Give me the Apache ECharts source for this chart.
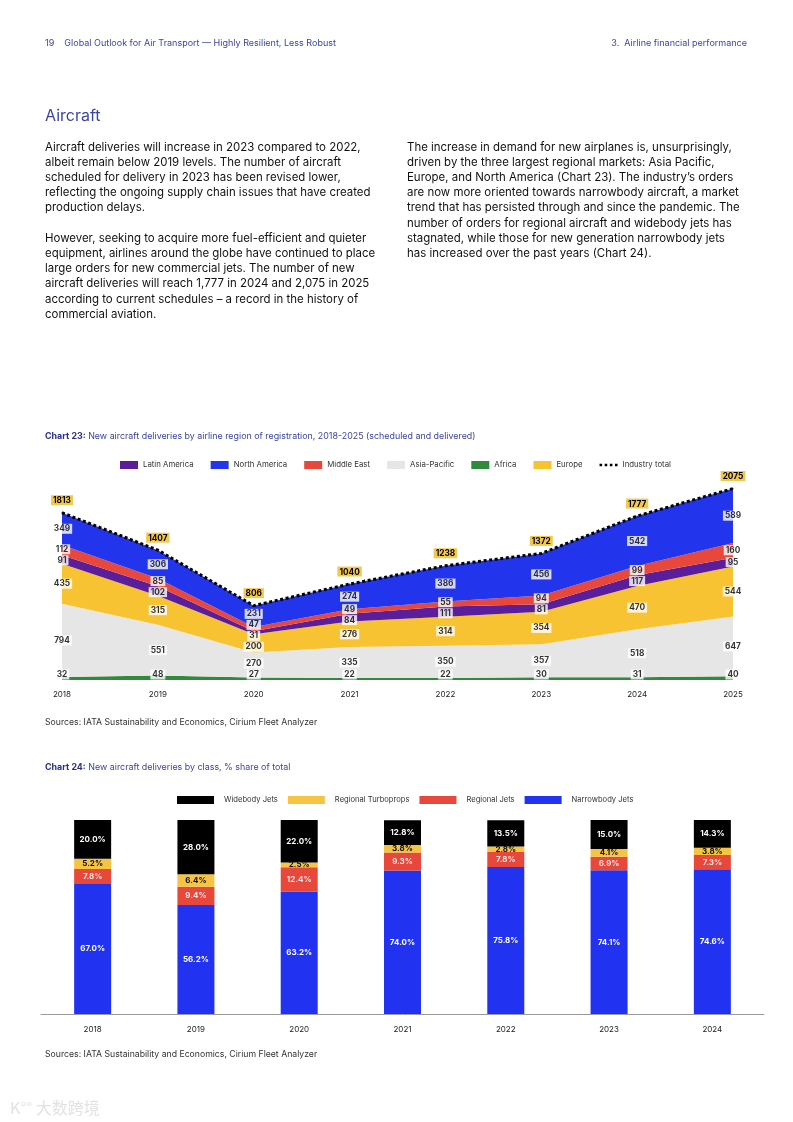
<!DOCTYPE html>
<html><head><meta charset="utf-8">
<script src="https://cdn.jsdelivr.net/npm/echarts@6/dist/echarts.min.js"></script>
<style>
body{margin:0;background:#fff;}
#page{position:relative;width:793px;height:1122px;overflow:hidden;font-family:Inter,'Noto Sans',sans-serif;background:#fff;}
#chart{position:absolute;left:0;top:0;width:793px;height:1122px;}
.t{position:absolute;white-space:nowrap;}
.hdr{top:37px;font-size:9px;color:#3b44a6;line-height:12px;}
.h2{left:45px;top:105px;font-size:16px;color:#3b44a6;line-height:20px;}
.p{font-size:11.45px;line-height:15.2px;color:#111;}
.ct{left:45px;font-size:8.9px;color:#3b44a6;line-height:12px;}
.ct b{color:#2a308f;}
.src{left:45px;font-size:8.7px;color:#333;line-height:12px;}
.wm{left:10px;top:1095px;font-size:16px;color:#e2e2e2;font-family:'Noto Sans CJK SC',sans-serif;}
</style></head>
<body>
<div id="page">
<div id="chart"></div>
<div class="t hdr" style="left:45px;">19&nbsp;&nbsp;&nbsp; Global Outlook for Air Transport — Highly Resilient, Less Robust</div>
<div class="t hdr" style="right:46px;">3.&nbsp; Airline financial performance</div>
<div class="t h2">Aircraft</div>
<div class="t p" style="left:45px;top:139.5px;">Aircraft deliveries will increase in 2023 compared to 2022,<br>albeit remain below 2019 levels. The number of aircraft<br>scheduled for delivery in 2023 has been revised lower,<br>reflecting the ongoing supply chain issues that have created<br>production delays.<br><br>However, seeking to acquire more fuel-efficient and quieter<br>equipment, airlines around the globe have continued to place<br>large orders for new commercial jets. The number of new<br>aircraft deliveries will reach 1,777 in 2024 and 2,075 in 2025<br>according to current schedules – a record in the history of<br>commercial aviation.</div>
<div class="t p" style="left:407px;top:139.5px;">The increase in demand for new airplanes is, unsurprisingly,<br>driven by the three largest regional markets: Asia Pacific,<br>Europe, and North America (Chart 23). The industry’s orders<br>are now more oriented towards narrowbody aircraft, a market<br>trend that has persisted through and since the pandemic. The<br>number of orders for regional aircraft and widebody jets has<br>stagnated, while those for new generation narrowbody jets<br>has increased over the past years (Chart 24).</div>
<div class="t ct" style="top:430px;"><b>Chart 23:</b> New aircraft deliveries by airline region of registration, 2018-2025 (scheduled and delivered)</div>
<div class="t src" style="top:716px;">Sources: IATA Sustainability and Economics, Cirium Fleet Analyzer</div>
<div class="t ct" style="top:761px;"><b>Chart 24:</b> New aircraft deliveries by class, % share of total</div>
<div class="t src" style="top:1048px;">Sources: IATA Sustainability and Economics, Cirium Fleet Analyzer</div>
<div class="t wm">K°° 大数跨境</div>
</div>
<script>
// ---- Chart 23 data ----
const years23 = ['2018','2019','2020','2021','2022','2023','2024','2025'];
const africa = [32,48,27,22,22,30,31,40];
const asiaPacific = [794,551,270,335,350,357,518,647];
const europe = [435,315,200,276,314,354,470,544];
const latinAmerica = [91,102,31,84,111,81,117,95];
const middleEast = [112,85,47,49,55,94,99,160];
const northAmerica = [349,306,231,274,386,456,542,589];
const industryTotal = [1813,1407,806,1040,1238,1372,1777,2075];

// ---- Chart 24 data ----
const years24 = ['2018','2019','2020','2021','2022','2023','2024'];
const narrowbody = [67.0,56.2,63.2,74.0,75.8,74.1,74.6];
const regionalJets = [7.8,9.4,12.4,9.3,7.8,6.9,7.3];
const regionalTurboprops = [5.2,6.4,2.5,3.8,2.8,4.1,3.8];
const widebody = [20.0,28.0,22.0,12.8,13.5,15.0,14.3];

const FONT = 'Inter, "Noto Sans", sans-serif';
const C = {
  latin:'#5a1d9c', north:'#2234ec', me:'#e8483c', ap:'#e6e6e6', af:'#2f8a3c', eu:'#f7c332'
};

// grid geometry for chart 23
const g23 = {left:62, right:60, top:477, bottom:442};
const y23Max = 2200;
const g23H = 1122 - g23.top - g23.bottom;

// label positions at band middles, spread apart when too close
function bandLabels(list){
  const unit = y23Max / g23H;
  const gap = 11 * unit, minY = 5.5 * unit;
  const out = list.map(()=>[]);
  for (let i=0;i<list[0].length;i++){
    let cum=0; const pos=[];
    list.forEach(s=>{pos.push(cum + s[i]/2); cum += s[i];});
    for (let it=0; it<60; it++){
      for (let k=1;k<pos.length;k++){
        const d = pos[k]-pos[k-1];
        if (d < gap){ const m=(gap-d)/2; pos[k]+=m; pos[k-1]-=m; }
      }
      if (pos[0] < minY) pos[0] = minY;
    }
    for (let k=1;k<pos.length;k++) if (pos[k]-pos[k-1] < gap) pos[k] = pos[k-1]+gap;
    pos.forEach((p,k)=>out[k].push([i, p, list[k][i]]));
  }
  return out;
}

const stackList = [
  {name:'Africa', data:africa, color:C.af},
  {name:'Asia-Pacific', data:asiaPacific, color:C.ap},
  {name:'Europe', data:europe, color:C.eu},
  {name:'Latin America', data:latinAmerica, color:C.latin},
  {name:'Middle East', data:middleEast, color:C.me},
  {name:'North America', data:northAmerica, color:C.north}
];
const labelPos = bandLabels(stackList.map(s=>s.data));

const series = [];
stackList.forEach(s=>{
  series.push({
    name:s.name, type:'line', stack:'regions', xAxisIndex:0, yAxisIndex:0,
    data:s.data, symbol:'none', smooth:false,
    lineStyle:{width:0}, itemStyle:{color:s.color},
    areaStyle:{color:s.color, opacity:1}, z:2, silent:true
  });
});
stackList.forEach((s,k)=>{
  series.push({
    name:s.name+' labels', type:'scatter', xAxisIndex:0, yAxisIndex:0,
    data:labelPos[k], symbolSize:1, itemStyle:{color:'rgba(0,0,0,0)'}, z:6, silent:true,
    label:{show:true, position:'inside', formatter:p=>p.value[2],
      backgroundColor:'#ffffff', color:'#000', fontWeight:'bold', fontSize:8.3,
      fontFamily:FONT, padding:[1,2,0,2], lineHeight:9}
  });
});
series.push({
  name:'Industry total', type:'line', xAxisIndex:0, yAxisIndex:0,
  data:industryTotal, symbol:'circle', symbolSize:1, showSymbol:true, z:4, silent:true,
  itemStyle:{color:'#000'},
  lineStyle:{color:'#000', width:3, type:[3,2.6]},
  label:{show:true, position:'top', distance:7, formatter:p=>p.value,
    backgroundColor:'#f4c74e', color:'#000', fontWeight:'bold', fontSize:8.3,
    fontFamily:FONT, padding:[1,2,0,2], lineHeight:9}
});

// chart 24 series
const bars = [
  {name:'Narrowbody Jets', data:narrowbody, color:'#2133f0', text:'#fff'},
  {name:'Regional Jets', data:regionalJets, color:'#e8473b', text:'#fbe4e2'},
  {name:'Regional Turboprops', data:regionalTurboprops, color:'#f6c343', text:'#111'},
  {name:'Widebody Jets', data:widebody, color:'#000000', text:'#fff'}
];
bars.forEach(b=>{
  series.push({
    name:b.name, type:'bar', stack:'class', xAxisIndex:1, yAxisIndex:1,
    data:b.data, barWidth:37, itemStyle:{color:b.color}, silent:true,
    label:{show:true, position:'inside', color:b.text, fontSize:8, fontWeight:'bold',
      fontFamily:FONT, formatter:p=>p.value.toFixed(1)+'%'}
  });
});

const dotted = 'path://M0,0h3v3h-3z M6,0h3v3h-3z M12,0h3v3h-3z M18,0h3v3h-3z';
const chart = echarts.init(document.getElementById('chart'), null, {renderer:'canvas'});
chart.setOption({
  animation:false,
  textStyle:{fontFamily:FONT},
  legend:[
    {left:120, top:461, padding:0, itemWidth:18, itemHeight:8, itemGap:17,
     textStyle:{fontSize:7.8, color:'#333', fontFamily:FONT},
     data:[
       {name:'Latin America', icon:'rect'},
       {name:'North America', icon:'rect'},
       {name:'Middle East', icon:'rect'},
       {name:'Asia-Pacific', icon:'rect'},
       {name:'Africa', icon:'rect'},
       {name:'Europe', icon:'rect'},
       {name:'Industry total', icon:dotted, itemStyle:{color:'#000'}}
     ], selectedMode:false},
    {left:177, top:796, padding:0, itemWidth:37, itemHeight:8, itemGap:10,
     textStyle:{fontSize:7.6, color:'#333', fontFamily:FONT, padding:[0,0,0,5]},
     data:[
       {name:'Widebody Jets', icon:'rect'},
       {name:'Regional Turboprops', icon:'rect'},
       {name:'Regional Jets', icon:'rect'},
       {name:'Narrowbody Jets', icon:'rect'}
     ], selectedMode:false}
  ],
  grid:[
    {left:g23.left, right:g23.right, top:g23.top, bottom:g23.bottom},
    {left:41, right:29, top:820, bottom:108}
  ],
  xAxis:[
    {gridIndex:0, type:'category', data:years23, boundaryGap:false,
     axisLine:{show:false}, axisTick:{show:false},
     axisLabel:{fontSize:8, color:'#222', margin:11, fontFamily:FONT}},
    {gridIndex:1, type:'category', data:years24, boundaryGap:true,
     axisLine:{show:true, lineStyle:{color:'#9a9a9a', width:1}}, axisTick:{show:false},
     axisLabel:{fontSize:8, color:'#222', margin:12, fontFamily:FONT}}
  ],
  yAxis:[
    {gridIndex:0, type:'value', min:0, max:y23Max, show:false, splitLine:{show:false}},
    {gridIndex:1, type:'value', min:0, max:100, show:false, splitLine:{show:false}}
  ],
  series:series
});
</script>
</body></html>
